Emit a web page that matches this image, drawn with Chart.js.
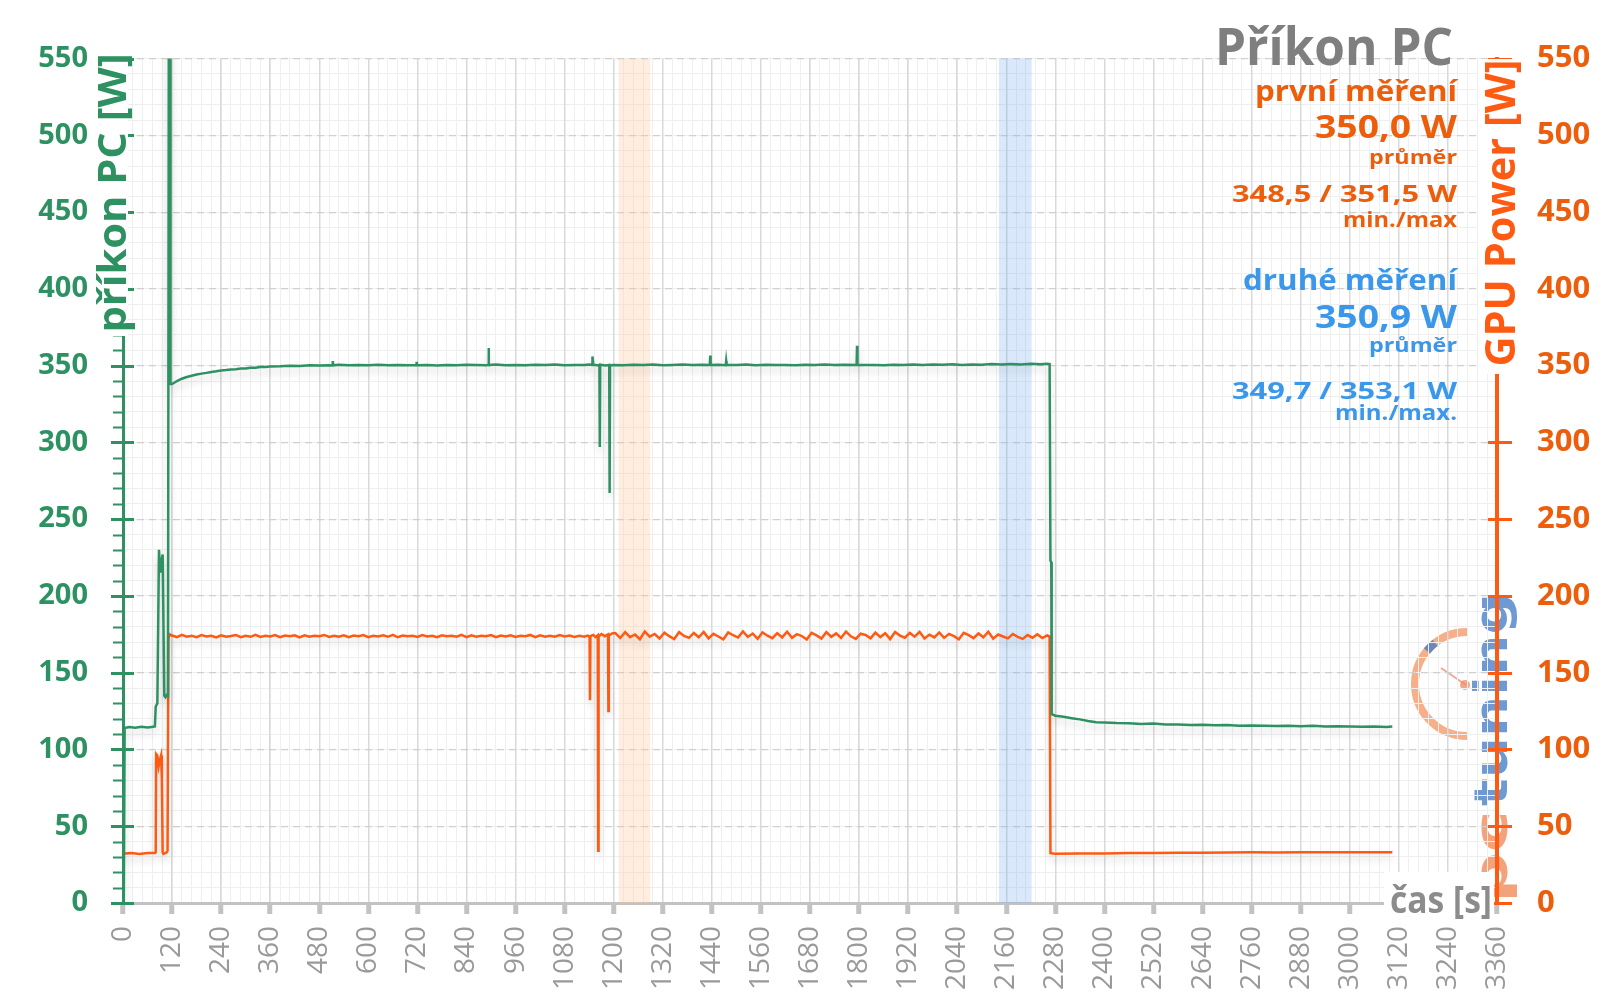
<!DOCTYPE html>
<html>
<head>
<meta charset="utf-8">
<script src="https://cdn.jsdelivr.net/npm/chart.js@4"></script>
<style>
  html, body { margin: 0; padding: 0; background: #fff; }
  #wrap { width: 1600px; height: 998px; position: relative; }
</style>
</head>
<body>
<div id="wrap"><canvas id="powerChart"></canvas></div>
<script>
// --- data ---
const xTickStep = 120;
const xMax = 3360;
const yMax = 550;

// PC power (green)
const pcStartTime  = [2, 4, 15, 30, 45, 60, 70, 78, 80, 84, 88, 90, 93, 95, 97, 99, 101, 104, 107, 110, 112, 115, 116];
const pcStartPower = [0, 114, 114.6, 114.2, 114.8, 114.3, 114.7, 115, 128, 130, 230, 221, 216, 224, 227, 180, 135, 134, 135.5, 135, 560, 560, 338];

const pcLoadTime = [
  120,132,144,156,168,180,192,204,216,228,
  240,252,264,276,288,300,312,324,336,348,
  360,384,408,432,456,480,504,512,513,514,
  528,552,576,600,624,648,672,696,717,718,
  719,744,768,792,816,840,864,888,893,894,
  895,912,936,960,984,1008,1032,1056,1080,1104,
  1128,1140,1147,1148,1150,1160,1165,1166,1167,1180,
  1189,1190,1191,1200,1224,1248,1272,1296,1320,1344,
  1368,1392,1416,1435,1436,1437,1456,1474,1475,1476,
  1500,1524,1548,1572,1596,1620,1644,1668,1692,1716,
  1740,1764,1794,1795,1796,1812,1836,1860,1884,1908,
  1932,1956,1980,2004,2028,2052,2076,2100,2124,2148,
  2172,2196,2220,2244,2260,2266,2268,2270,2271
];
const pcLoadPower = [
  338,340,341.5,342.6,343.4,344.2,344.8,345.3,345.9,346.3,
  346.8,347.1,347.5,347.7,348.1,348.2,348.6,348.7,349.1,349.2,
  349.5,349.6,350,349.8,350.2,350.1,350.3,350.1,353,350.2,
  350.6,350.2,350.5,350.3,350.6,350.2,350.5,350.3,350.4,352.5,
  350.3,350.4,350.1,350.5,350.3,350.6,350.4,350.2,350.5,361.5,
  350.4,350.7,350.3,350.5,350.2,350.6,350.4,350.7,350.3,350.5,
  350.4,350.8,350.5,356,350.6,350.2,350.5,297,350.6,350.1,
  350.4,267,350.2,350.5,350.3,350.6,350.4,350.7,350.3,350.5,
  350.8,350.4,350.6,350.5,356.5,350.4,350.6,350.3,353,350.5,
  350.4,350.7,350.3,350.6,350.4,350.5,350.3,350.6,350.5,350.7,
  350.4,350.6,350.5,363,350.6,350.4,350.5,350.3,350.6,350.4,
  350.7,350.5,350.8,350.6,350.9,350.5,350.8,350.6,351,350.7,
  351.1,350.8,351.2,350.9,351.3,351,223,222,123
];

const pcIdleTime  = [2280,2300,2320,2340,2360,2380,2400,2430,2460,2490,2520,2550,2580,2610,2640,2670,2700,2730,2760,2790,2820,2850,2880,2910,2940,2970,3000,3030,3060,3090,3104];
const pcIdlePower = [122,121.3,120.4,119.6,118.5,117.8,117.6,117.2,117,116.6,116.9,116.3,116.2,116,116.1,115.8,115.9,115.5,115.6,115.5,115.3,115.5,115.2,115.4,115,115.2,115,114.8,115,114.7,114.9];

// GPU power (orange)
const gpuStartTime  = [0, 20, 40, 60, 78, 80, 81, 84, 87, 90, 93, 95, 97, 99, 103, 107, 109, 111, 114];
const gpuStartPower = [32, 32.5, 32, 32.5, 32.5, 33, 97, 96, 89, 93, 96, 82, 33, 32, 32.5, 33, 34, 172, 175];

const gpuLoadTime = [
  120,132,144,156,168,180,192,204,216,228,
  240,252,264,276,288,300,312,324,336,348,
  360,372,384,396,408,420,432,444,456,468,
  480,492,504,516,528,540,552,564,576,588,
  600,612,624,636,648,660,672,684,696,708,
  720,732,744,756,768,780,792,804,816,828,
  840,852,864,876,888,900,912,924,936,948,
  960,972,984,996,1008,1020,1032,1044,1056,1068,
  1080,1092,1104,1116
];
const gpuLoadPower = [
  174.2,173.1,174.6,173.4,174.0,173.2,174.5,173.6,174.1,173.0,
  174.4,173.5,173.9,174.6,173.2,174.1,173.4,174.7,173.3,174.0,
  173.6,174.5,173.1,174.2,173.7,174.4,173.0,174.3,173.5,174.1,
  173.8,174.6,173.3,174.0,173.5,174.4,173.1,174.2,173.7,174.5,
  173.2,174.0,173.6,174.3,173.4,174.7,173.1,174.2,173.8,174.0,
  173.3,174.5,173.6,174.1,173.2,174.4,173.7,174.0,173.4,174.6,
  173.2,174.3,173.5,174.1,173.8,174.5,173.1,174.2,173.6,174.4,
  173.3,174.0,173.7,174.6,173.2,174.3,173.5,174.1,173.4,174.5,
  173.6,174.2,173.3,174.0
];

const gpuDipTime  = [1128,1136,1141,1142,1143,1150,1156,1161,1162,1163,1170,1178,1186,1187,1188,1196];
const gpuDipPower = [173.5,174.2,173.4,132,173.8,174.6,173.2,174.4,34,173.6,175.2,173.8,175.0,125,174.2,175.6];

const gpuLoad2Time = [
  1204,1216,1228,1240,1252,1264,1276,1288,1300,1312,
  1324,1336,1348,1360,1372,1384,1396,1408,1420,1432,
  1444,1456,1468,1480,1492,1504,1516,1528,1540,1552,
  1564,1576,1588,1600,1612,1624,1636,1648,1660,1672,
  1684,1696,1708,1720,1732,1744,1756,1768,1780,1792,
  1804,1816,1828,1840,1852,1864,1876,1888,1900,1912,
  1924,1936,1948,1960,1972,1984,1996,2008,2020,2032,
  2044,2056,2068,2080,2092,2104,2116,2128,2140,2152,
  2164,2176,2188,2200,2212,2224,2236,2248,2260
];
const gpuLoad2Power = [
  175.8,172.6,176.4,173.2,174.9,171.8,176.8,173.5,175.2,172.3,
  176.1,173.8,171.9,176.5,174.0,172.7,175.9,173.1,176.6,172.4,
  175.3,173.6,171.7,176.2,174.4,172.9,176.9,173.3,175.5,172.1,
  176.3,174.1,172.5,175.8,173.0,176.7,172.8,175.1,173.9,171.6,
  176.0,174.3,172.2,176.4,173.4,175.6,172.6,176.8,173.7,172.0,
  175.4,174.6,172.4,176.1,173.2,175.7,171.9,176.5,174.2,172.8,
  175.9,173.5,176.6,172.3,174.8,173.0,176.2,172.7,175.3,173.8,
  171.8,176.0,174.5,172.5,175.6,173.1,176.7,172.2,174.9,173.6,
  172.4,175.2,173.3,172.0,174.6,172.8,175.0,172.6,174.3
];

const gpuIdleTime  = [2266,2268,2280,2340,2400,2460,2520,2580,2640,2700,2760,2820,2880,2940,3000,3060,3104];
const gpuIdlePower = [173.5,32.5,32,32.3,32.2,32.5,32.6,32.8,32.7,32.9,33,32.9,33.1,33,33.1,33,33.1];

// highlighted measurement windows [from, to] in seconds
const bandFirst  = [1212, 1289];
const bandSecond = [2142, 2222];

const firstRun  = ['první měření', '350,0 W', 'průměr', '348,5 / 351,5 W', 'min./max'];
const secondRun = ['druhé měření', '350,9 W', 'průměr', '349,7 / 353,1 W', 'min./max.'];

const GREEN = '#2e9162';
const ORANGE = '#ff5a12';
const ORANGE_TXT = '#ec5e0c';
const BLUE = '#3b97e9';

const pcTime  = pcStartTime.concat(pcLoadTime, pcIdleTime);
const pcPower = pcStartPower.concat(pcLoadPower, pcIdlePower);
const gpuTime  = gpuStartTime.concat(gpuLoadTime, gpuDipTime, gpuLoad2Time, gpuIdleTime);
const gpuPower = gpuStartPower.concat(gpuLoadPower, gpuDipPower, gpuLoad2Power, gpuIdlePower);

function toPoints(xs, ys) {
  return xs.map((t, i) => ({ x: t, y: ys[i] }));
}

// text squeezed/stretched to the width it has in the reference
function fitText(ctx, text, x, y, w, size, color, align, rot) {
  ctx.save();
  ctx.font = `bold ${size}px "Open Sans"`;
  ctx.fillStyle = color;
  ctx.textAlign = align;
  ctx.textBaseline = 'alphabetic';
  ctx.translate(x, y);
  if (rot) ctx.rotate(rot);
  ctx.scale(w / ctx.measureText(text).width, 1);
  ctx.fillText(text, 0, 0);
  ctx.restore();
}

const bandPlugin = {
  id: 'bands',
  beforeDatasetsDraw(chart) {
    const { ctx, chartArea: a, scales: { x } } = chart;
    ctx.save();
    [[bandFirst, 'rgba(255,196,150,0.30)'], [bandSecond, 'rgba(120,175,240,0.28)']].forEach(([b, c]) => {
      const x0 = x.getPixelForValue(b[0]);
      const x1 = x.getPixelForValue(b[1]);
      ctx.fillStyle = c;
      ctx.fillRect(x0, a.top, x1 - x0, a.bottom - a.top);
    });
    ctx.restore();
    // soft shadow under the lines
    ctx.save();
    ctx.shadowColor = 'rgba(0,0,0,0.18)';
    ctx.shadowBlur = 8;
    ctx.shadowOffsetY = 5;
  },
  afterDatasetsDraw(chart) {
    chart.ctx.restore();
  }
};

const logoPlugin = {
  id: 'logo',
  beforeDraw(chart) {
    const ctx = chart.ctx;
    ctx.save();
    ctx.globalAlpha = 0.75;
    ctx.strokeStyle = '#f39462';
    ctx.lineWidth = 8;
    ctx.beginPath();
    ctx.arc(1467, 684, 52, Math.PI / 2, Math.PI * 1.5);
    ctx.stroke();
    ctx.strokeStyle = '#3a7cc8';
    ctx.beginPath();
    ctx.arc(1467, 684, 52, Math.PI * 1.22, Math.PI * 1.29);
    ctx.stroke();
    ctx.strokeStyle = '#f08a70';
    ctx.lineWidth = 2;
    ctx.beginPath();
    ctx.moveTo(1466, 685);
    ctx.lineTo(1441, 668);
    ctx.stroke();
    ctx.fillStyle = '#f08a60';
    ctx.beginPath();
    ctx.arc(1465, 685, 5, 0, Math.PI * 2);
    ctx.fill();
    ctx.globalAlpha = 0.7;
    ctx.font = 'bold 46px "DejaVu Sans"';
    ctx.textAlign = 'left';
    ctx.translate(1507, 903);
    ctx.rotate(-Math.PI / 2);
    ctx.save();
    ctx.scale(93 / ctx.measureText('pc').width, 1);
    ctx.fillStyle = '#f07a40';
    ctx.fillText('pc', 0, 0);
    ctx.restore();
    ctx.translate(97, 0);
    ctx.scale(213 / ctx.measureText('tuning').width, 1);
    ctx.fillStyle = '#2f6fc0';
    ctx.fillText('tuning', 0, 0);
    ctx.restore();
  }
};

const decorPlugin = {
  id: 'decor',
  afterDraw(chart) {
    const { ctx, scales } = chart;
    const left = scales.y.right;
    const right = scales.y1.left;
    ctx.save();
    // left axis ticks
    ctx.strokeStyle = GREEN;
    scales.yMinor.ticks.forEach(t => {
      const py = Math.round(scales.y.getPixelForValue(t.value)) + 0.5;
      const major = t.value % 50 === 0;
      ctx.lineWidth = major ? 3 : 2;
      ctx.beginPath();
      ctx.moveTo(major ? left - 12 : left - 10, py);
      ctx.lineTo(major ? left + 11 : left, py);
      ctx.stroke();
    });
    // right axis ticks
    ctx.strokeStyle = ORANGE;
    ctx.lineWidth = 3;
    scales.y1.ticks.forEach(t => {
      const py = Math.round(scales.y1.getPixelForValue(t.value)) + 0.5;
      ctx.beginPath();
      ctx.moveTo(right - 9, py);
      ctx.lineTo(right + 15, py);
      ctx.stroke();
    });
    // white boxes behind the axis titles
    ctx.fillStyle = '#fff';
    ctx.fillRect(90, 59, 38, 277);
    ctx.fillRect(1478, 59, 44, 315);
    ctx.fillRect(1384, 872, 110, 52);
    ctx.restore();

    fitText(ctx, 'příkon PC [W]', 126, 193, 279, 40, GREEN, 'center', -Math.PI / 2);
    fitText(ctx, 'GPU Power [W]', 1515, 213, 307, 42, ORANGE, 'center', -Math.PI / 2);
    fitText(ctx, 'čas [s]', 1492, 913, 102, 37, '#8c8c8c', 'right');

    fitText(ctx, 'Příkon PC', 1453, 65, 238, 52, '#7f7f7f', 'right');
    const sizes = [28, 33, 20, 24, 21];
    const widths1 = [202, 142, 88, 225, 114];
    const widths2 = [214, 142, 88, 225, 122];
    const base1 = [101, 138, 164, 202, 227];
    const base2 = [290, 328, 352, 399, 420];
    firstRun.forEach((s, i) => fitText(ctx, s, 1457, base1[i], widths1[i], sizes[i], ORANGE_TXT, 'right'));
    secondRun.forEach((s, i) => fitText(ctx, s, 1457, base2[i], widths2[i], sizes[i], BLUE, 'right'));
  }
};

new Chart(document.getElementById('powerChart'), {
  type: 'line',
  data: {
    datasets: [
      { label: 'příkon PC', data: toPoints(pcTime, pcPower), yAxisID: 'y', borderColor: GREEN, borderWidth: 2.5, order: 1 },
      { label: 'GPU Power', data: toPoints(gpuTime, gpuPower), yAxisID: 'y1', borderColor: ORANGE, borderWidth: 2.5, order: 2 }
    ]
  },
  options: {
    responsive: true,
    maintainAspectRatio: false,
    animation: false,
    layout: { padding: { top: 54, left: 0, right: 0, bottom: 0 } },
    elements: { point: { radius: 0 }, line: { tension: 0 } },
    plugins: { legend: { display: false }, tooltip: { enabled: false } },
    scales: {
      x: {
        type: 'linear', position: 'bottom', min: 0, max: xMax,
        afterFit: s => { s.height = 95; },
        ticks: {
          stepSize: xTickStep, autoSkip: false, maxRotation: 90, minRotation: 90, padding: 12,
          color: '#9a9a9a', font: { family: 'Open Sans', size: 28 },
          callback: v => String(v)
        },
        grid: { color: '#d9d9d9', lineWidth: 1.5, tickLength: 11, tickColor: '#c2c2c2', tickWidth: 5 },
        border: { color: '#c2c2c2', width: 3 }
      },
      xMinor: {
        type: 'linear', position: 'bottom', min: 0, max: xMax,
        afterFit: s => { s.height = 0; },
        ticks: { display: false, stepSize: 24 },
        grid: { color: '#efefef', lineWidth: 1, drawTicks: false, z: -2 },
        border: { display: false }
      },
      y: {
        position: 'left', min: 0, max: yMax,
        afterFit: s => { s.width = 123; },
        ticks: { stepSize: 50, padding: 35, color: GREEN, font: { family: 'Open Sans', size: 29, weight: 'bold' } },
        grid: { color: '#d0d0d0', lineWidth: 1.2, drawTicks: false },
        border: { color: GREEN, width: 3, dash: [7, 5] }
      },
      yMinor: {
        position: 'left', min: 0, max: yMax,
        afterFit: s => { s.width = 0; },
        ticks: { display: false, stepSize: 10 },
        grid: { color: '#efefef', lineWidth: 1, drawTicks: false, z: -2 },
        border: { display: false }
      },
      y1: {
        position: 'right', min: 0, max: yMax,
        afterFit: s => { s.width = 103; },
        ticks: { stepSize: 50, padding: 40, color: ORANGE_TXT, font: { family: 'Open Sans', size: 31, weight: 'bold' } },
        grid: { drawOnChartArea: false, drawTicks: false },
        border: { color: ORANGE, width: 4 }
      }
    }
  },
  plugins: [logoPlugin, bandPlugin, decorPlugin]
});
</script>
</body>
</html>
